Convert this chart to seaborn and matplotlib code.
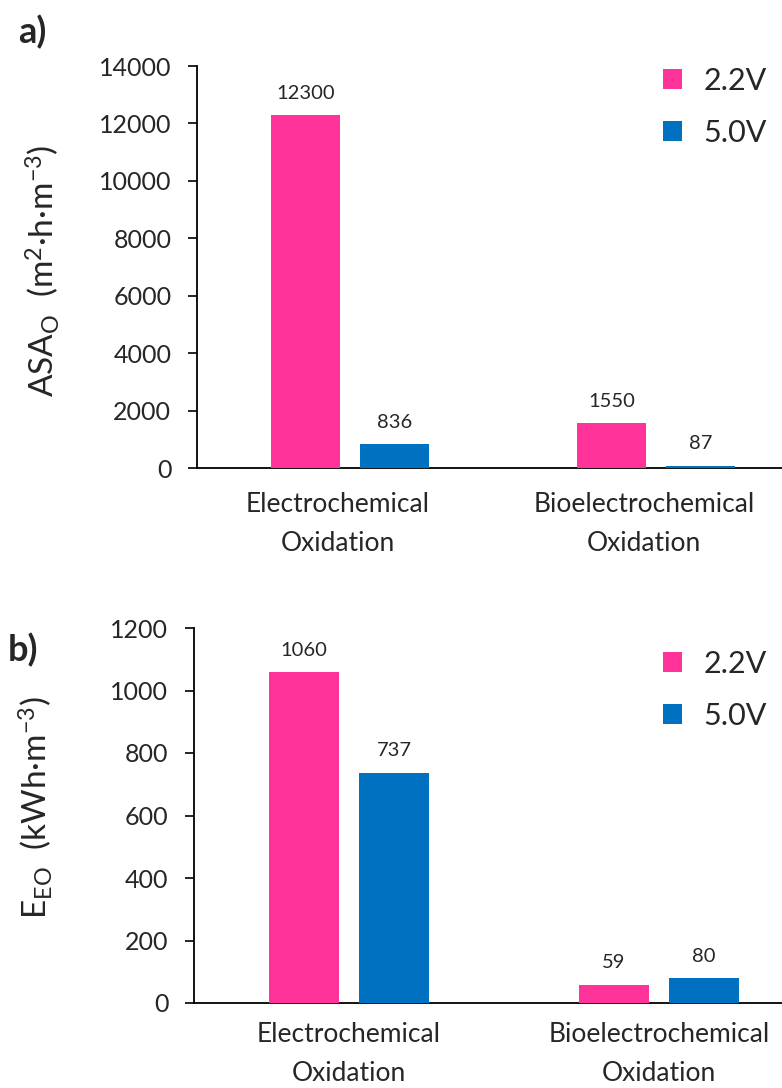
import matplotlib
matplotlib.use("Agg")
import matplotlib.pyplot as plt
from matplotlib.transforms import ScaledTranslation
import seaborn as sns
import pandas as pd

# ---- data ----
processes = ["Electrochemical\nOxidation", "Bioelectrochemical\nOxidation"]
voltages = ["2.2V", "5.0V"]
asa_22 = [12300, 1550]
asa_50 = [836, 87]
eeo_22 = [1060, 59]
eeo_50 = [737, 80]
asa_ticks = [0, 2000, 4000, 6000, 8000, 10000, 12000, 14000]
eeo_ticks = [0, 200, 400, 600, 800, 1000, 1200]
colors = ["#FF3399", "#0070C0"]

sns.set_theme(style="white")
plt.rcParams["font.family"] = ["Lato", "DejaVu Sans"]
plt.rcParams["mathtext.fontset"] = "custom"
plt.rcParams["mathtext.rm"] = "Lato"
plt.rcParams["mathtext.it"] = "Lato:italic"
plt.rcParams["mathtext.bf"] = "Lato:bold"

W, H = 782, 1088
fig = plt.figure(figsize=(W / 100, H / 100), dpi=100)


def make_df(v22, v50):
    rows = []
    for p, a, b in zip(processes, v22, v50):
        rows.append({"process": p, "voltage": voltages[0], "value": a})
        rows.append({"process": p, "voltage": voltages[1], "value": b})
    return pd.DataFrame(rows)


def panel(rect, df, ticks, ylabel, letter, letter_xy, label_xy, leg_xy,
          xlab_shift, xpad):
    ax = fig.add_axes(rect)
    sns.barplot(data=df, x="process", y="value", hue="voltage",
                order=processes, hue_order=voltages, palette=colors,
                width=0.58, gap=0.22, ax=ax, saturation=1, errorbar=None,
                linewidth=0)
    for p in ax.patches:
        p.set_zorder(3)
        p.set_linewidth(0)
        p.set_clip_on(False)
    ax.set_xlim(-0.5, 1.5)
    ax.set_ylim(ticks[0], ticks[-1])
    ax.set_yticks(ticks)
    ax.set_yticklabels([str(t) for t in ticks], fontsize=18)
    ax.set_xticks(range(len(processes)))
    ax.set_xticklabels(processes, fontsize=19, linespacing=1.7)
    ax.tick_params(axis="x", length=0, pad=xpad)
    ax.tick_params(axis="y", length=6.5, width=1.2, direction="out",
                   color="black", pad=12, left=True)
    for lab in ax.get_xticklabels():
        lab.set_transform(lab.get_transform() +
                          ScaledTranslation(xlab_shift / 100, 0,
                                            fig.dpi_scale_trans))
    for s in ["top", "right"]:
        ax.spines[s].set_visible(False)
    for s in ["left", "bottom"]:
        ax.spines[s].set_color("black")
        ax.spines[s].set_linewidth(1.3)
    ax.set_xlabel("")
    ax.set_ylabel(ylabel, fontsize=24)
    ax.yaxis.set_label_coords(*label_xy)
    for cont in ax.containers:
        ax.bar_label(cont, labels=[f"{int(v.get_height())}" for v in cont],
                     padding=9.5, fontsize=14.5)
    handles, labels = ax.get_legend_handles_labels()
    ax.legend(handles, labels, loc="upper left",
              bbox_to_anchor=(leg_xy[0] / W, 1 - leg_xy[1] / H),
              bbox_transform=fig.transFigure, frameon=False, fontsize=22,
              handlelength=0.62, handleheight=0.62, handletextpad=0.7,
              labelspacing=0.78, borderpad=0, borderaxespad=0)
    fig.text(letter_xy[0] / W, 1 - letter_xy[1] / H, letter, fontsize=26,
             fontweight="bold", ha="left", va="center")
    return ax


df_a = make_df(asa_22, asa_50)
df_b = make_df(eeo_22, eeo_50)

panel([197 / W, 1 - 468 / H, 612 / W, 402 / H], df_a, asa_ticks,
      r"ASA$_\mathregular{O}$  (m$^\mathregular{2}$·h·m$^\mathregular{-3}$)",
      "a)", (18, 32), (-0.2205, 0.49), (663, 67), -12, 17)
panel([194 / W, 1 - 1003 / H, 620 / W, 375 / H], df_b, eeo_ticks,
      r"E$_\mathregular{EO}$  (kWh·m$^\mathregular{-3}$)",
      "b)", (8, 650), (-0.2242, 0.52), (663, 650), 0, 14)

fig.savefig("out.png", dpi=100)
